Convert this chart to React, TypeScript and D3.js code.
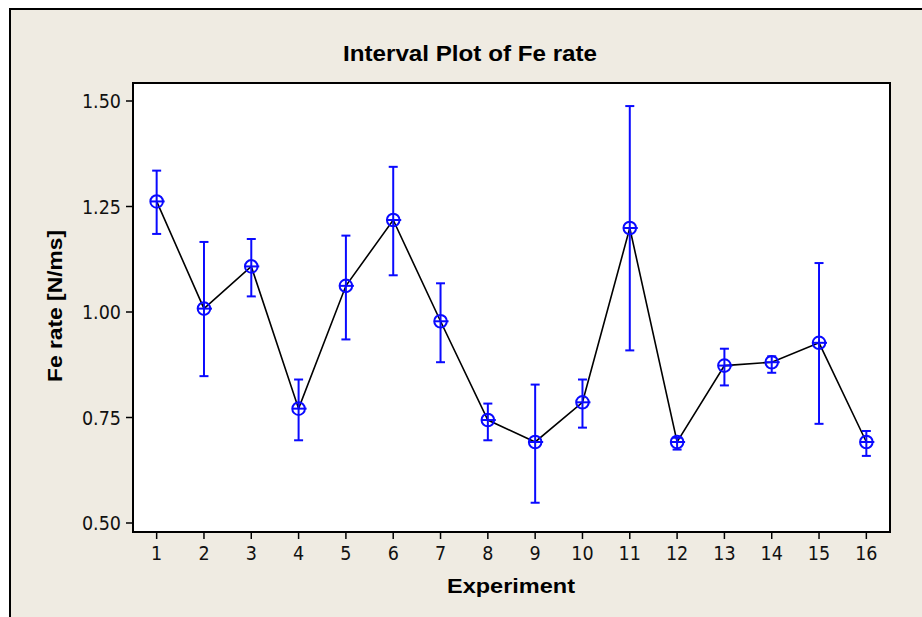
import React from "react";
import * as d3 from "d3";

const experiments = [1, 2, 3, 4, 5, 6, 7, 8, 9, 10, 11, 12, 13, 14, 15, 16];
const means = [1.262, 1.008, 1.108, 0.771, 1.062, 1.218, 0.978, 0.744, 0.692, 0.786, 1.199, 0.692, 0.873, 0.881, 0.927, 0.692];
const upper = [1.335, 1.166, 1.173, 0.840, 1.181, 1.344, 1.068, 0.783, 0.828, 0.840, 1.488, 0.702, 0.913, 0.895, 1.116, 0.718];
const lower = [1.185, 0.848, 1.037, 0.696, 0.935, 1.087, 0.881, 0.696, 0.548, 0.726, 0.909, 0.674, 0.826, 0.856, 0.735, 0.659];
const yTicks = [0.5, 0.75, 1.0, 1.25, 1.5];

const W = 922;
const H = 617;
const plot = { left: 133, top: 83, right: 890, bottom: 532 };
const BLUE = "#0a0aff";
const BG = "#efebe2";
const tickFont = "'DejaVu Sans Condensed', 'DejaVu Sans', Verdana, sans-serif";
const boldFont = "'Liberation Sans', Arial, sans-serif";

export default function App() {
  const x = d3.scaleLinear().domain([0.5, 16.5]).range([plot.left, plot.right]);
  const y = d3.scaleLinear().domain([0.5, 1.5]).range([523, 101]);
  const line = d3
    .line<number>()
    .x((_, i) => x(experiments[i]))
    .y((d) => y(d));

  return (
    <svg
      width={W}
      height={H}
      style={{ position: "absolute", left: 0, top: 0, display: "block" }}
    >
      <rect x={0} y={0} width={W} height={H} fill="#ffffff" />
      <rect x={10} y={9} width={W + 10} height={H + 10} fill={BG} stroke="#000" strokeWidth={2} />
      <text
        x={470}
        y={61}
        textAnchor="middle"
        fontFamily={boldFont}
        fontWeight="bold"
        fontSize={22}
        textLength={254}
        lengthAdjust="spacingAndGlyphs"
      >
        Interval Plot of Fe rate
      </text>
      <rect
        x={plot.left}
        y={plot.top}
        width={plot.right - plot.left}
        height={plot.bottom - plot.top}
        fill="#ffffff"
        stroke="#000"
        strokeWidth={2}
      />
      {yTicks.map((t) => (
        <g key={"y" + t}>
          <line x1={plot.left - 7} x2={plot.left} y1={y(t)} y2={y(t)} stroke="#000" strokeWidth={1.5} />
          <text
            x={plot.left - 12}
            y={y(t)}
            dy="0.36em"
            textAnchor="end"
            fontFamily={tickFont}
            fontSize={19.5}
            fill="#111"
          >
            {d3.format(".2f")(t)}
          </text>
        </g>
      ))}
      {experiments.map((e) => (
        <g key={"x" + e}>
          <line x1={x(e)} x2={x(e)} y1={plot.bottom} y2={plot.bottom + 7} stroke="#000" strokeWidth={1.5} />
          <text
            x={x(e)}
            y={560}
            textAnchor="middle"
            fontFamily={tickFont}
            fontSize={19.5}
            fill="#111"
          >
            {e}
          </text>
        </g>
      ))}
      <text
        x={511}
        y={593}
        textAnchor="middle"
        fontFamily={boldFont}
        fontWeight="bold"
        fontSize={21}
        textLength={128}
        lengthAdjust="spacingAndGlyphs"
      >
        Experiment
      </text>
      <text
        transform="translate(62,306) rotate(-90)"
        textAnchor="middle"
        fontFamily={boldFont}
        fontWeight="bold"
        fontSize={21}
        textLength={152}
        lengthAdjust="spacingAndGlyphs"
      >
        Fe rate [N/ms]
      </text>
      <path d={line(means) || ""} fill="none" stroke="#000" strokeWidth={1.6} />
      {experiments.map((e, i) => {
        const cx = x(e);
        const cy = y(means[i]);
        const yu = y(upper[i]);
        const yl = y(lower[i]);
        return (
          <g key={"m" + e} stroke={BLUE} strokeWidth={2} fill="none">
            <line x1={cx} x2={cx} y1={yu} y2={yl} />
            <line x1={cx - 4.5} x2={cx + 4.5} y1={yu} y2={yu} />
            <line x1={cx - 4.5} x2={cx + 4.5} y1={yl} y2={yl} />
            <circle cx={cx} cy={cy} r={6.3} />
            <line x1={cx - 6.3} x2={cx + 8} y1={cy} y2={cy} />
          </g>
        );
      })}
    </svg>
  );
}
